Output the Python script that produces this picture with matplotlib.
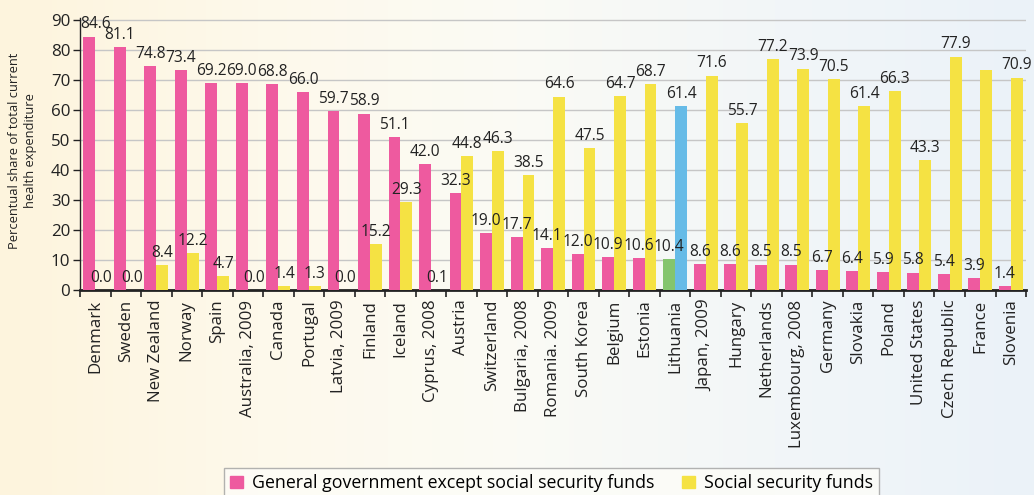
import numpy as np
import matplotlib
matplotlib.use("Agg")
import matplotlib.pyplot as plt
from matplotlib.colors import LinearSegmentedColormap
from matplotlib.patches import Patch

plt.rcParams['font.family'] = ['Open Sans', 'DejaVu Sans']

countries = ["Denmark", "Sweden", "New Zealand", "Norway", "Spain", "Australia, 2009",
             "Canada", "Portugal", "Latvia, 2009", "Finland", "Iceland", "Cyprus, 2008",
             "Austria", "Switzerland", "Bulgaria, 2008", "Romania. 2009", "South Korea",
             "Belgium", "Estonia", "Lithuania", "Japan, 2009", "Hungary", "Netherlands",
             "Luxembourg, 2008", "Germany", "Slovakia", "Poland", "United States",
             "Czech Republic", "France", "Slovenia"]

general_gov = [84.6, 81.1, 74.8, 73.4, 69.2, 69.0, 68.8, 66.0, 59.7, 58.9, 51.1, 42.0,
               32.3, 19.0, 17.7, 14.1, 12.0, 10.9, 10.6, 10.4, 8.6, 8.6, 8.5, 8.5, 6.7,
               6.4, 5.9, 5.8, 5.4, 3.9, 1.4]

social_sec = [0.0, 0.0, 8.4, 12.2, 4.7, 0.0, 1.4, 1.3, 0.0, 15.2, 29.3, 0.1, 44.8, 46.3,
              38.5, 64.6, 47.5, 64.7, 68.7, 61.4, 71.6, 55.7, 77.2, 73.9, 70.5, 61.4,
              66.3, 43.3, 77.9, 73.5, 70.9]

# France's social security bar carries no value label
social_labelled = [True] * len(countries)
social_labelled[countries.index("France")] = False

highlight = "Lithuania"

PINK = "#EE5A9F"
YELLOW = "#F5E243"
GREEN = "#84C56E"
BLUE = "#66BBE7"

fig = plt.figure(figsize=(10.34, 4.95), dpi=100)

# soft pastel backdrop: warm cream on the left fading to pale blue on the right
bg = fig.add_axes([0, 0, 1, 1], zorder=-10)
cmap = LinearSegmentedColormap.from_list(
    "backdrop", ["#FDF4DD", "#FEF9EB", "#FBFBF5", "#F2F6F8", "#EBF2F8"])
grad = np.linspace(0, 1, 256).reshape(1, -1)
bg.imshow(grad, aspect="auto", cmap=cmap, extent=[0, 1, 0, 1])
bg.set_axis_off()

ax = fig.add_axes([0.0774, 0.4141, 0.9149, 0.5495])
ax.patch.set_alpha(0)

x = np.arange(len(countries))
w = 0.39
pink_colors = [GREEN if c == highlight else PINK for c in countries]
yellow_colors = [BLUE if c == highlight else YELLOW for c in countries]

b1 = ax.bar(x - w / 2, general_gov, w, color=pink_colors, zorder=3)
b2 = ax.bar(x + w / 2, social_sec, w, color=yellow_colors, zorder=3)

lab_kw = dict(textcoords="offset points", va="bottom",
              fontsize=11.2, color="#222222", zorder=5)
for i, (xi, v) in enumerate(zip(x, general_gov)):
    if i == 0:
        # keep the first label clear of the y tick labels
        ax.annotate(f"{v:.1f}", (-0.5, v), xytext=(0, 3), ha="left", **lab_kw)
    else:
        ax.annotate(f"{v:.1f}", (xi - w / 2, v), xytext=(0, 3), ha="center", **lab_kw)
for xi, v, show in zip(x, social_sec, social_labelled):
    if show:
        ax.annotate(f"{v:.1f}", (xi + w / 2, v), xytext=(0, 3), ha="center", **lab_kw)

ax.set_xlim(-0.5, len(countries) - 0.5)
ax.set_ylim(0, 90.8)
ax.set_yticks(np.arange(0, 91, 10))
ax.yaxis.grid(True, color="#C6C6C6", linewidth=1.0, zorder=0)
ax.set_axisbelow(True)

ax.set_xticks(x)
ax.set_xticklabels(countries, rotation=90, fontsize=12.2, color="#222222")
ax.set_xticks(np.arange(-0.5, len(countries), 1.0), minor=True)
ax.tick_params(axis="x", which="major", length=0, pad=7)
ax.tick_params(axis="x", which="minor", length=5, width=1.2, direction="out", color="#222222")
ax.tick_params(axis="y", length=5, width=1.0, direction="out", labelsize=12.2,
               color="#222222", labelcolor="#222222", pad=2)

for s in ("top", "right"):
    ax.spines[s].set_visible(False)
ax.spines["left"].set_color("#222222")
ax.spines["left"].set_linewidth(1.0)
ax.spines["bottom"].set_color("#222222")
ax.spines["bottom"].set_linewidth(2.0)

fig.text(0.0218, 0.695, "Percentual share of total current\nhealth expenditure",
         rotation=90, ha="center", va="center", fontsize=9.3, color="#222222",
         linespacing=1.35)

handles = [Patch(color=PINK, label="General government except social security funds"),
           Patch(color=YELLOW, label="Social security funds")]
leg = fig.legend(handles=handles, loc="upper left", bbox_to_anchor=(0.2166, 0.0545),
                 borderaxespad=0, ncol=2, frameon=True, fontsize=12.8,
                 handlelength=0.7, handleheight=0.7, handletextpad=0.5,
                 columnspacing=1.6, borderpad=0.35, fancybox=False)
leg.get_frame().set_edgecolor("#A0A0A0")
leg.get_frame().set_facecolor("#FDFDF8")
leg.get_frame().set_linewidth(1.0)

fig.savefig("out.png", dpi=100)
